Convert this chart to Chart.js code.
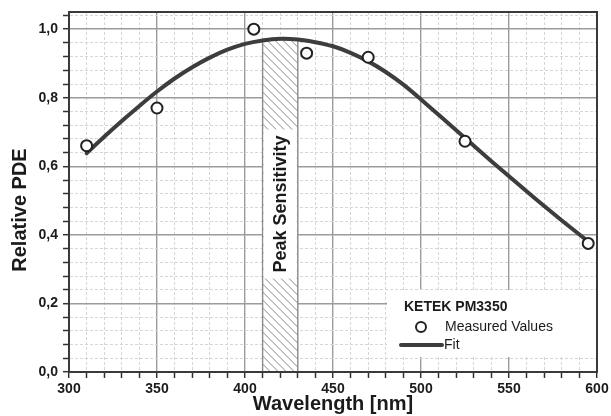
<!DOCTYPE html>
<html>
<head>
<meta charset="utf-8">
<script src="https://cdn.jsdelivr.net/npm/chart.js@4.4.0/dist/chart.umd.min.js"></script>
<style>
  html, body { margin: 0; padding: 0; background: #fff; }
  canvas { display: block; }
</style>
</head>
<body>
<canvas id="pdeChart" width="611" height="416"></canvas>
<script>
// measured PDE points
const measuredWavelengths = [310, 350, 405, 435, 470, 525, 595];
const measuredPde = [0.66, 0.77, 1.0, 0.93, 0.918, 0.673, 0.375];

// fitted curve
const fitWavelengths = [310, 320, 330, 340, 350, 360, 370, 380, 390, 400, 410, 420, 430, 440, 450,
                        460, 470, 480, 490, 500, 510, 520, 530, 540, 550, 560, 570, 580, 590, 595];
const fitPde = [0.638, 0.686, 0.732, 0.776, 0.818, 0.856, 0.889, 0.917, 0.940, 0.957, 0.967, 0.972, 0.970, 0.962, 0.950,
                0.931, 0.906, 0.875, 0.838, 0.795, 0.750, 0.705, 0.660, 0.615, 0.571, 0.527, 0.484, 0.442, 0.401, 0.381];

// axis ticks
const xTickValues = [300, 350, 400, 450, 500, 550, 600];
const xTickLabels = ['300', '350', '400', '450', '500', '550', '600'];
const yTickValues = [0, 0.2, 0.4, 0.6, 0.8, 1.0];
const yTickLabels = ['0,0', '0,2', '0,4', '0,6', '0,8', '1,0'];

// peak sensitivity band
const peakBand = [410, 430];
const peakBandTop = 0.97;
const peakBandLabel = 'Peak Sensitivity';
const peakLabelCenter = 0.49;

const legendTitle = 'KETEK PM3350';
const seriesNames = ['Measured Values', 'Fit'];

const FONT = '"Liberation Sans", Arial, Helvetica, sans-serif';
const TEXT = '#1b1b1b';
const MAJOR_GRID = '#9c9c9c';
const MINOR_GRID = '#d6d6d6';

function findTick(values, v) {
  return values.findIndex(t => Math.abs(t - v) < 1e-6);
}

function gridColor(values) {
  return ctx => (ctx.tick && findTick(values, ctx.tick.value) >= 0) ? MAJOR_GRID : MINOR_GRID;
}
function gridWidth(values) {
  return ctx => (ctx.tick && findTick(values, ctx.tick.value) >= 0) ? 1.4 : 1;
}
function gridDash(values) {
  return ctx => (ctx.tick && findTick(values, ctx.tick.value) >= 0) ? [] : [3, 2];
}

const peakBandPlugin = {
  id: 'peakBand',
  beforeDatasetsDraw(chart) {
    const { ctx, scales: { x, y } } = chart;
    const left = x.getPixelForValue(peakBand[0]);
    const right = x.getPixelForValue(peakBand[1]);
    const top = y.getPixelForValue(peakBandTop);
    const bottom = y.getPixelForValue(0);
    const w = right - left, h = bottom - top;

    ctx.save();
    ctx.fillStyle = '#fff';
    ctx.fillRect(left, top, w, h);

    // diagonal hatching
    ctx.beginPath();
    ctx.rect(left, top, w, h);
    ctx.clip();
    ctx.strokeStyle = '#8a8a8a';
    ctx.lineWidth = 1;
    ctx.beginPath();
    for (let off = -h; off < w; off += 8) {
      ctx.moveTo(left + off, top);
      ctx.lineTo(left + off + h, top + h);
    }
    ctx.stroke();
    ctx.restore();

    ctx.save();
    ctx.strokeStyle = '#8a8a8a';
    ctx.lineWidth = 1.4;
    ctx.beginPath();
    ctx.moveTo(left, bottom);
    ctx.lineTo(left, top);
    ctx.lineTo(right, top);
    ctx.lineTo(right, bottom);
    ctx.stroke();

    // label on a white strip
    const cx = (left + right) / 2;
    const cy = y.getPixelForValue(peakLabelCenter);
    ctx.font = 'bold 18px ' + FONT;
    const tw = ctx.measureText(peakBandLabel).width;
    ctx.fillStyle = '#fff';
    ctx.fillRect(left + 1, cy - tw / 2 - 6, w - 2, tw + 12);
    ctx.translate(cx, cy);
    ctx.rotate(-Math.PI / 2);
    ctx.fillStyle = TEXT;
    ctx.textAlign = 'center';
    ctx.textBaseline = 'middle';
    ctx.fillText(peakBandLabel, 0, 1);
    ctx.restore();
  }
};

const framePlugin = {
  id: 'frame',
  afterDraw(chart) {
    const { ctx, chartArea: a } = chart;
    ctx.save();
    ctx.strokeStyle = '#3a3a3a';
    ctx.lineWidth = 2;
    ctx.strokeRect(a.left, a.top, a.right - a.left, a.bottom - a.top);

    // y axis title
    ctx.font = 'bold 20px ' + FONT;
    ctx.fillStyle = TEXT;
    ctx.textAlign = 'center';
    ctx.textBaseline = 'middle';
    ctx.translate(20, a.top + 198);
    ctx.rotate(-Math.PI / 2);
    ctx.fillText('Relative PDE', 0, 0);
    ctx.restore();

    // legend box in the lower right corner
    const lx = a.right - 210, ly = a.bottom - 82;
    ctx.save();
    ctx.fillStyle = '#fff';
    ctx.fillRect(lx, ly, 209, 67);
    ctx.fillStyle = TEXT;
    ctx.textBaseline = 'middle';
    ctx.font = 'bold 14px ' + FONT;
    ctx.fillText(legendTitle, lx + 17, ly + 17);
    ctx.font = '14px ' + FONT;
    ctx.fillText(seriesNames[0], lx + 58, ly + 37);
    ctx.fillText(seriesNames[1], lx + 57, ly + 55);
    ctx.beginPath();
    ctx.arc(lx + 34, ly + 37, 5, 0, Math.PI * 2);
    ctx.fillStyle = '#fff';
    ctx.fill();
    ctx.strokeStyle = '#222';
    ctx.lineWidth = 2;
    ctx.stroke();
    ctx.beginPath();
    ctx.moveTo(lx + 14, ly + 55);
    ctx.lineTo(lx + 55, ly + 55);
    ctx.strokeStyle = '#3d3d3d';
    ctx.lineWidth = 4;
    ctx.lineCap = 'round';
    ctx.stroke();
    ctx.restore();
  }
};

new Chart(document.getElementById('pdeChart'), {
  type: 'scatter',
  data: {
    datasets: [
      {
        label: seriesNames[0],
        data: measuredWavelengths.map((x, i) => ({ x, y: measuredPde[i] })),
        pointStyle: 'circle',
        pointRadius: 5.5,
        pointBorderWidth: 2,
        pointBackgroundColor: '#fff',
        pointBorderColor: '#222',
        showLine: false
      },
      {
        label: seriesNames[1],
        data: fitWavelengths.map((x, i) => ({ x, y: fitPde[i] })),
        showLine: true,
        pointRadius: 0,
        borderColor: '#3d3d3d',
        borderWidth: 4,
        tension: 0.3,
        borderCapStyle: 'round'
      }
    ]
  },
  options: {
    responsive: false,
    animation: false,
    devicePixelRatio: 1,
    layout: { padding: { top: 12, right: 14, left: 0, bottom: 0 } },
    plugins: { legend: { display: false }, tooltip: { enabled: false } },
    scales: {
      x: {
        type: 'linear',
        min: 300,
        max: 600,
        afterFit(scale) { scale.height = 44; scale.paddingLeft = 0; scale.paddingRight = 0; },
        ticks: {
          stepSize: 10,
          autoSkip: false,
          maxRotation: 0,
          includeBounds: false,
          padding: 3,
          color: TEXT,
          font: { family: FONT, size: 14, weight: 'bold' },
          callback: v => { const i = findTick(xTickValues, v); return i >= 0 ? xTickLabels[i] : ''; }
        },
        grid: {
          color: gridColor(xTickValues),
          lineWidth: gridWidth(xTickValues),
          tickColor: '#333',
          tickWidth: 1.5,
          tickLength: 6
        },
        border: { display: true, color: '#3a3a3a', width: 2, dash: gridDash(xTickValues) },
        title: {
          display: true,
          text: 'Wavelength [nm]',
          color: TEXT,
          font: { family: FONT, size: 20, weight: 'bold' },
          padding: { top: 0, bottom: 0 }
        }
      },
      y: {
        type: 'linear',
        min: 0,
        max: 1.05,
        afterFit(scale) { scale.width = 69; scale.paddingTop = 0; scale.paddingBottom = 0; },
        ticks: {
          stepSize: 0.04,
          autoSkip: false,
          includeBounds: false,
          padding: 5,
          color: TEXT,
          font: { family: FONT, size: 14, weight: 'bold' },
          callback: v => { const i = findTick(yTickValues, v); return i >= 0 ? yTickLabels[i] : ''; }
        },
        grid: {
          color: gridColor(yTickValues),
          lineWidth: gridWidth(yTickValues),
          tickColor: '#333',
          tickWidth: 1.5,
          tickLength: 6
        },
        border: { display: true, color: '#3a3a3a', width: 2, dash: gridDash(yTickValues) }
      }
    }
  },
  plugins: [peakBandPlugin, framePlugin]
});
</script>
</body>
</html>
